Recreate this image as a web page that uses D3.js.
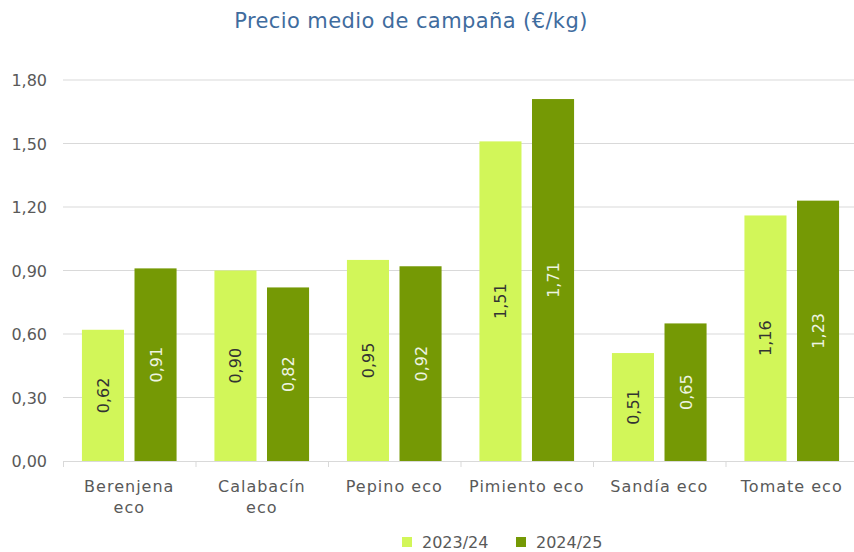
<!DOCTYPE html>
<html>
<head>
<meta charset="utf-8">
<script src="https://cdn.jsdelivr.net/npm/d3@7"></script>
<style>
  body { margin: 0; background: #fff; }
  svg { display: block; }
</style>
</head>
<body>
<svg id="svg" width="854" height="552"></svg>
<script>
// data
const categories = [["Berenjena", "eco"], ["Calabacín", "eco"], ["Pepino eco"], ["Pimiento eco"], ["Sandía eco"], ["Tomate eco"]];
const seriesNames = ["2023/24", "2024/25"];
const values2324 = [0.62, 0.90, 0.95, 1.51, 0.51, 1.16];
const values2425 = [0.91, 0.82, 0.92, 1.71, 0.65, 1.23];
const yTicks = [0, 0.3, 0.6, 0.9, 1.2, 1.5, 1.8];

const colors = ["#d2f659", "#759905"];
const labelColors = ["#333333", "#eef4e2"];
const font = "'DejaVu Sans', sans-serif";

const svg = d3.select("#svg").attr("font-family", font);

const catKeys = categories.map(d => d.join(" "));
const x = d3.scaleBand().domain(catKeys).range([63, 858]);
const xs = d3.scaleBand().domain(seriesNames).range([0, x.bandwidth()]).paddingInner(0.2).paddingOuter(0.36);
const y = d3.scaleLinear().domain([0, 1.8]).range([461, 80]);

const fmt = v => d3.format(".2f")(v).replace(".", ",");

// title
svg.append("text")
    .attr("x", 411).attr("y", 28)
    .attr("text-anchor", "middle")
    .attr("font-size", 21)
    .attr("letter-spacing", 0.4)
    .attr("fill", "#3f6c9e")
    .text("Precio medio de campaña (€/kg)");

// grid
svg.append("g").selectAll("line")
    .data(yTicks.slice(1))
    .join("line")
    .attr("x1", 63).attr("x2", 858)
    .attr("y1", d => y(d)).attr("y2", d => y(d))
    .attr("stroke", "#d9d9d9").attr("stroke-width", 1);

// y labels
svg.append("g").selectAll("text")
    .data(yTicks)
    .join("text")
    .attr("x", 47).attr("y", d => y(d) + 6)
    .attr("text-anchor", "end")
    .attr("font-size", 16)
    .attr("fill", "#595959")
    .text(fmt);

// bars
const rows = catKeys.map((c, i) => ({ cat: c, vals: [values2324[i], values2425[i]] }));
const groups = svg.append("g").selectAll("g")
    .data(rows)
    .join("g")
    .attr("transform", d => `translate(${x(d.cat)},0)`);

const bars = groups.selectAll("g")
    .data(d => d.vals.map((v, j) => ({ key: seriesNames[j], v: v, j: j })))
    .join("g");

bars.append("rect")
    .attr("x", d => xs(d.key))
    .attr("width", xs.bandwidth())
    .attr("y", d => y(d.v))
    .attr("height", d => y(0) - y(d.v))
    .attr("fill", d => colors[d.j]);

bars.append("text")
    .attr("transform", d => `translate(${xs(d.key) + xs.bandwidth() / 2 + 6},${(y(d.v) + y(0)) / 2}) rotate(-90)`)
    .attr("text-anchor", "middle")
    .attr("font-size", 16)
    .attr("fill", d => labelColors[d.j])
    .text(d => fmt(d.v));

// x axis line and ticks
svg.append("line")
    .attr("x1", 63).attr("x2", 858)
    .attr("y1", 461.5).attr("y2", 461.5)
    .attr("stroke", "#d9d9d9");
svg.append("g").selectAll("line")
    .data(catKeys.concat(["end"]))
    .join("line")
    .attr("x1", (d, i) => 63 + i * x.bandwidth() + 0.5)
    .attr("x2", (d, i) => 63 + i * x.bandwidth() + 0.5)
    .attr("y1", 461).attr("y2", 467)
    .attr("stroke", "#d9d9d9");

// category labels
const catText = svg.append("g").selectAll("text")
    .data(categories)
    .join("text")
    .attr("x", (d, i) => x(catKeys[i]) + x.bandwidth() / 2)
    .attr("y", 492)
    .attr("text-anchor", "middle")
    .attr("font-size", 16)
    .attr("letter-spacing", 1)
    .attr("fill", "#595959");
catText.selectAll("tspan")
    .data(d => d)
    .join("tspan")
    .attr("x", function() { return d3.select(this.parentNode).attr("x"); })
    .attr("dy", (d, i) => i === 0 ? 0 : 21)
    .text(d => d);

// legend
const legendX = [402, 516];
const legend = svg.append("g").selectAll("g")
    .data(seriesNames)
    .join("g")
    .attr("transform", (d, i) => `translate(${legendX[i]},537)`);
legend.append("rect")
    .attr("width", 10).attr("height", 10)
    .attr("fill", (d, i) => colors[i]);
legend.append("text")
    .attr("x", 20).attr("y", 11)
    .attr("font-size", 16)
    .attr("fill", "#595959")
    .text(d => d);
</script>
</body>
</html>
